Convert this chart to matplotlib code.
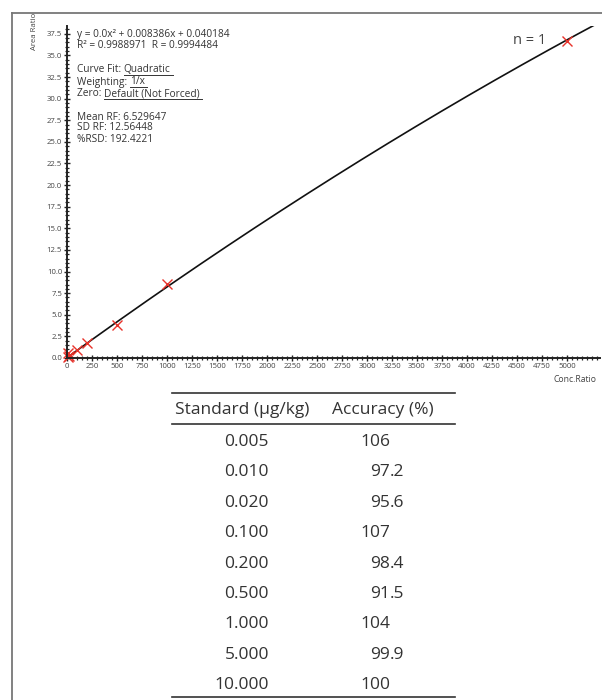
import matplotlib.pyplot as plt
import numpy as np
from matplotlib.ticker import MultipleLocator, FormatStrFormatter
from matplotlib.lines import Line2D

plt.rcParams['font.family'] = ['Open Sans', 'DejaVu Sans']

# calibration points (conc. ratio vs area ratio)
conc_ratio = [5, 10, 20, 100, 200, 500, 1000, 5000]
area_ratio = [0.55, 0.1, 0.2, 0.9, 1.7, 3.85, 8.6, 36.7]

# quadratic fit coefficients (a shown as 0.0 in the report)
fit_a = -2.07e-7
fit_b = 0.008386
fit_c = 0.040184

standards = ["0.005", "0.010", "0.020", "0.100", "0.200", "0.500", "1.000", "5.000", "10.000"]
accuracy = ["106", "97.2", "95.6", "107", "98.4", "91.5", "104", "99.9", "100"]

W, H = 602, 700
fig = plt.figure(figsize=(W / 100, H / 100), dpi=100)

def fx(x):
    return x / W

def fy(y):
    return 1 - y / H

# outer frame (top and left only)
fig.add_artist(Line2D([fx(11.5), 1.0], [fy(12.5), fy(12.5)], color="#777777", lw=1.3))
fig.add_artist(Line2D([fx(11.5), fx(11.5)], [fy(12.5), 0.0], color="#777777", lw=1.3))

ax = fig.add_axes([fx(67), fy(358), fx(600) - fx(67), fy(26) - fy(358)])
xs = np.linspace(0, 5330, 200)
ax.plot(xs, fit_a * xs**2 + fit_b * xs + fit_c, color="#111111", lw=1.2)
ax.plot(conc_ratio, area_ratio, "x", color="#e8322a", ms=7, mew=1.0, clip_on=False)

ax.set_xlim(0, 5330)
ax.set_ylim(0, 38.4)
for s in ["top", "right"]:
    ax.spines[s].set_visible(False)
for s in ["left", "bottom"]:
    ax.spines[s].set_linewidth(1.4)
    ax.spines[s].set_color("#222222")
ax.xaxis.set_minor_locator(MultipleLocator(50))
ax.yaxis.set_major_locator(MultipleLocator(2.5))
ax.yaxis.set_minor_locator(MultipleLocator(0.5))
ax.yaxis.set_major_formatter(FormatStrFormatter("%.1f"))
ax.xaxis.set_major_formatter(FormatStrFormatter("%d"))
ax.set_xticks(np.arange(0, 5001, 250))
ax.tick_params(which="major", direction="inout", length=4, width=1, color="#222222",
               labelsize=5.6, labelcolor="#444444", pad=1.5)
ax.tick_params(which="minor", direction="inout", length=2.5, width=0.9, color="#222222")

fig.text(fx(34), fy(31), "Area Ratio", rotation=90, ha="center", va="center",
         fontsize=5.6, color="#444444")
fig.text(fx(596), fy(379), "Conc.Ratio", ha="right", va="center", fontsize=6.2, color="#444444")
fig.text(fx(513), fy(40), "n = 1", ha="left", va="center", fontsize=10.5, color="#444444")

# fit summary text
info_lines = [
    (34, "y = 0.0x² + 0.008386x + 0.040184", None),
    (45, "R² = 0.9988971  R = 0.9994484", None),
    (70, "Curve Fit: ", "Quadratic"),
    (82, "Weighting: ", "1/x"),
    (94, "Zero: ", "Default (Not Forced)"),
    (117, "Mean RF: 6.529647", None),
    (128, "SD RF: 12.56448", None),
    (139, "%RSD: 192.4221", None),
]
fig.canvas.draw()
renderer = fig.canvas.get_renderer()
for y, label, value in info_lines:
    t = fig.text(fx(77), fy(y), label, ha="left", va="center", fontsize=7.3, color="#333333")
    if value is not None:
        bb = t.get_window_extent(renderer)
        x0 = bb.x1
        t2 = fig.text(x0 / W, fy(y), value, ha="left", va="center", fontsize=7.3, color="#333333")
        bb2 = t2.get_window_extent(renderer)
        fig.add_artist(Line2D([bb2.x0 / W, (bb2.x1 + 2) / W], [fy(y + 5), fy(y + 5)],
                              color="#333333", lw=0.7))

# accuracy table
tab_left, tab_right = 172, 455
fig.add_artist(Line2D([fx(tab_left), fx(tab_right)], [fy(393), fy(393)], color="#333333", lw=1.2))
fig.add_artist(Line2D([fx(tab_left), fx(tab_right)], [fy(424), fy(424)], color="#333333", lw=1.2))
fig.add_artist(Line2D([fx(tab_left), fx(tab_right)], [fy(697), fy(697)], color="#333333", lw=1.2))
fs = 12.5
fig.text(fx(175), fy(410), "Standard (µg/kg)", ha="left", va="center", fontsize=fs, color="#333333")
fig.text(fx(332), fy(410), "Accuracy (%)", ha="left", va="center", fontsize=fs, color="#333333")
for i, (s, a) in enumerate(zip(standards, accuracy)):
    y = 442 + i * 30.4
    fig.text(fx(269), fy(y), s, ha="right", va="center", fontsize=fs, color="#333333")
    whole, _, frac = a.partition(".")
    fig.text(fx(390), fy(y), whole, ha="right", va="center", fontsize=fs, color="#333333")
    if frac:
        fig.text(fx(390), fy(y), "." + frac, ha="left", va="center", fontsize=fs, color="#333333")

fig.savefig("out.png", dpi=100)
